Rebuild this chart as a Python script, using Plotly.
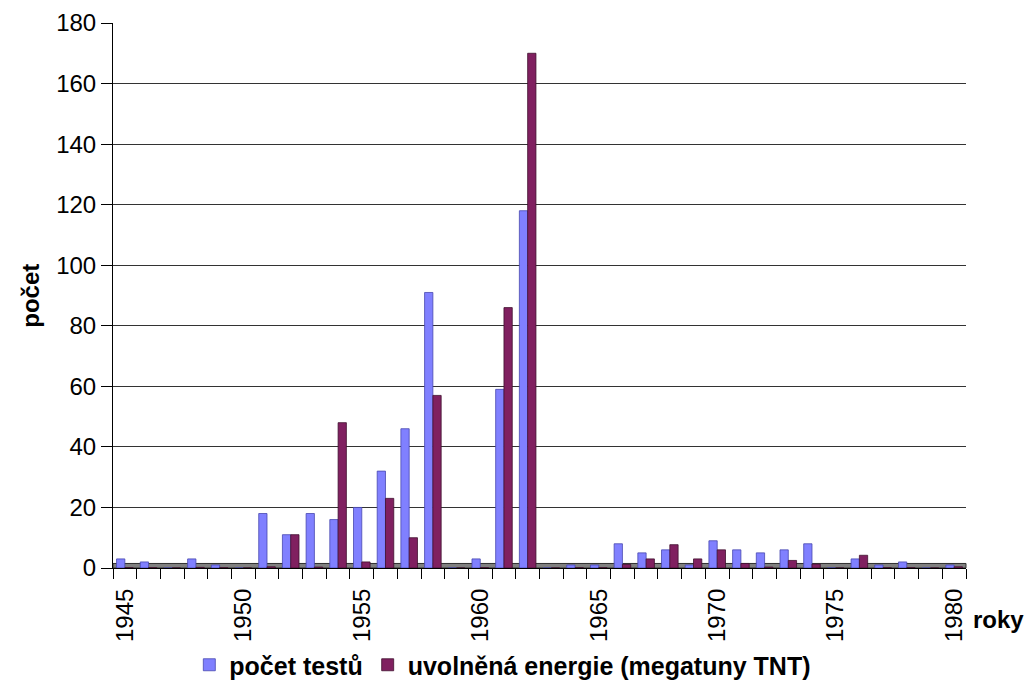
import plotly.graph_objects as go

# Atmospheric nuclear tests per year and released energy
years = list(range(1945, 1981))
pocet_testu = [3, 2, 0, 3, 1, 0, 18, 11, 18, 16, 20, 32, 46, 91, 0, 3, 59, 118,
               0, 1, 1, 8, 5, 6, 1, 9, 6, 5, 6, 8, 0, 3, 1, 2, 0, 1]
energie_mt = [0.1, 0.1, 0, 0.2, 0.1, 0, 0.4, 11, 0.3, 48, 2, 23, 10, 57, 0, 0.1, 86, 170,
              0, 0.1, 0.1, 1.2, 3, 7.7, 3, 6, 1.5, 0.3, 2.5, 1.3, 0, 4.2, 0.1, 0.1, 0, 0.4]
label_years = list(range(1945, 1981, 5))

FONT = "Liberation Sans, Arial, sans-serif"
BLUE = "#8080FF"
PLUM = "#802060"

fig = go.Figure()
fig.add_trace(go.Bar(
    x=years, y=pocet_testu, name="počet testů",
    marker=dict(color=BLUE, line=dict(color="#4848B0", width=0.8)),
))
fig.add_trace(go.Bar(
    x=years, y=energie_mt, name="uvolněná energie (megatuny TNT)",
    marker=dict(color=PLUM, line=dict(color="#40102F", width=0.8)),
))

# grey floor strip under the bars
fig.add_shape(type="rect", xref="paper", x0=0, x1=1, yref="y", y0=0, y1=1.5,
              fillcolor="#808080", line=dict(color="#303030", width=1), layer="between")

fig.update_layout(
    width=1034, height=690,
    margin=dict(l=113, r=68, t=23, b=122, autoexpand=False),
    paper_bgcolor="white", plot_bgcolor="white",
    barmode="group", bargap=0.3, bargroupgap=0,
    font=dict(family=FONT, size=24, color="black"),
    showlegend=True,
    legend=dict(orientation="h", x=0.457, xanchor="center", y=-0.178, yanchor="middle",
                font=dict(family=FONT, size=25, color="black", weight="bold"),
                itemwidth=30, tracegroupgap=0),
    xaxis=dict(
        range=[1944.5, 1980.5], automargin=False,
        tickvals=label_years, ticktext=[str(y) for y in label_years],
        tickangle=-90, ticks="", ticklabelstandoff=10,
        showgrid=False, zeroline=False,
        showline=True, linecolor="black", linewidth=1,
        tickfont=dict(family=FONT, size=24, color="black"),
        minor=dict(ticks="outside", tick0=1944.5, dtick=1, ticklen=10,
                   tickcolor="black", tickwidth=1, showgrid=False),
    ),
    yaxis=dict(
        range=[0, 180], dtick=20, ticks="outside", ticklen=11, tickcolor="black",
        automargin=False,
        showline=True, linecolor="black", linewidth=1,
        showgrid=True, gridcolor="#333333", gridwidth=1, zeroline=False,
        tickfont=dict(family=FONT, size=24, color="black"),
    ),
    annotations=[
        dict(text="<b>počet</b>", xref="paper", yref="paper", x=-0.097, y=0.5,
             xanchor="center", yanchor="middle",
             textangle=-90, showarrow=False, font=dict(family=FONT, size=24, color="black")),
        dict(text="<b>roky</b>", xref="paper", yref="paper", x=1.038, y=-0.095,
             xanchor="center", yanchor="middle", showarrow=False,
             font=dict(family=FONT, size=24, color="black")),
    ],
)

fig.write_html("out.html")
